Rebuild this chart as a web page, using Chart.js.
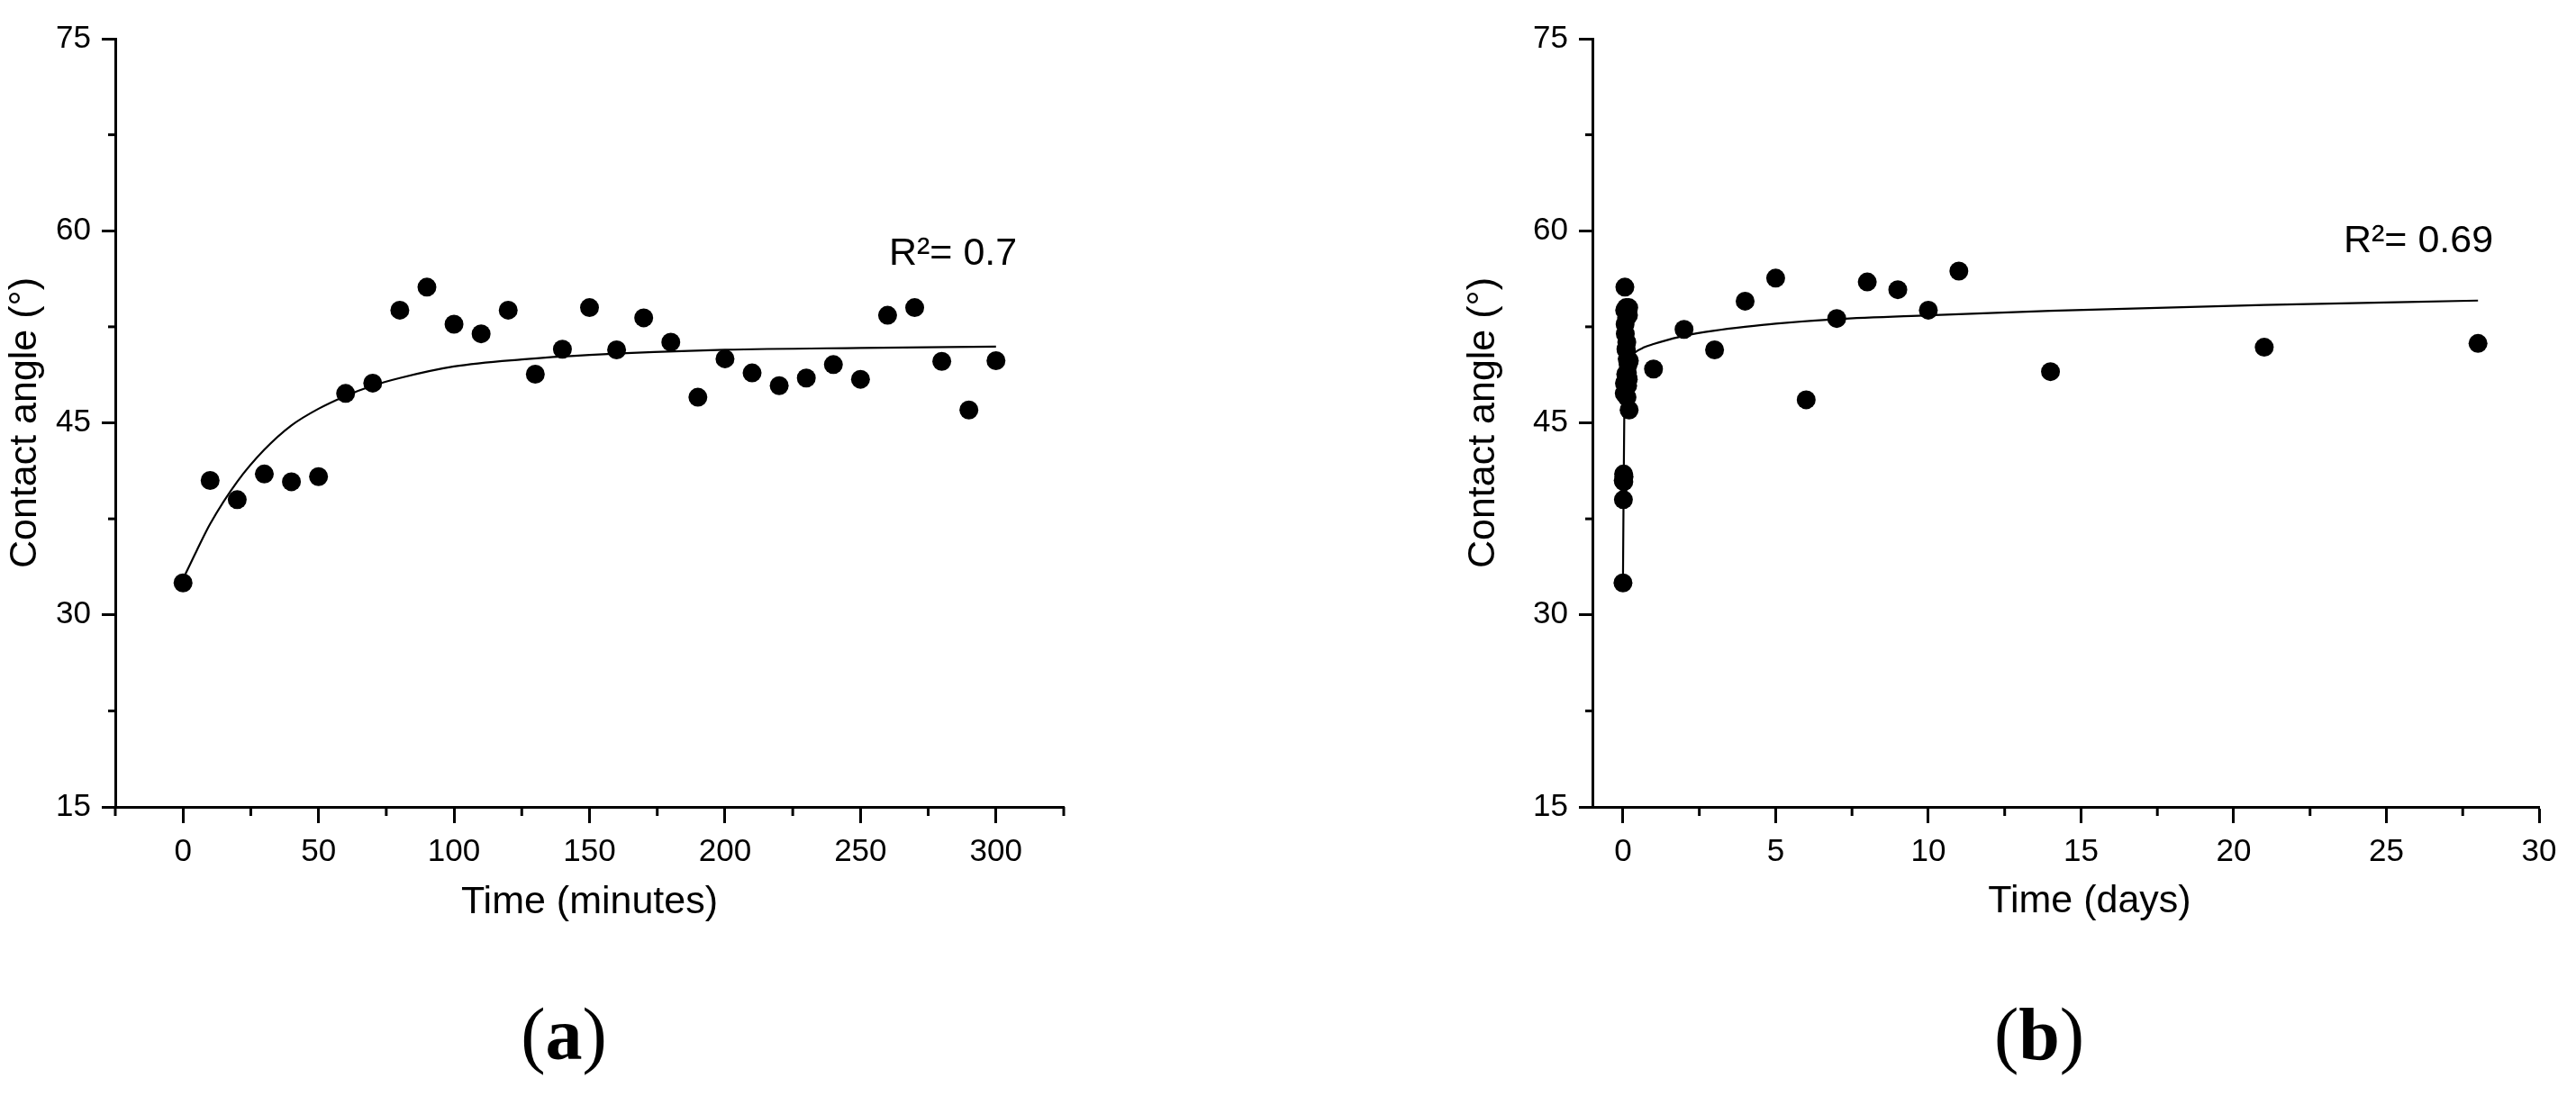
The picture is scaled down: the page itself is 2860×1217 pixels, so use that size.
<!DOCTYPE html>
<html>
<head>
<meta charset="utf-8">
<script src="https://cdn.jsdelivr.net/npm/chart.js@4.4.0/dist/chart.umd.min.js"></script>
<style>
  body { margin: 0; background: #fff; }
  #page { position: relative; width: 2860px; height: 1217px; overflow: hidden; background: #fff; }
  canvas { position: absolute; top: 0; }
  .panel { position: absolute; top: 1099px; width: 200px; text-align: center; font-family: "Liberation Serif", "Times New Roman", serif; font-size: 82px; line-height: 100px; color: #000; }
</style>
</head>
<body>
<div id="page">
  <canvas id="chartA" width="1400" height="1060" style="left:0"></canvas>
  <canvas id="chartB" width="1260" height="1060" style="left:1600px"></canvas>
  <div class="panel" style="left:526px">(<b>a</b>)</div>
  <div class="panel" style="left:2164px">(<b>b</b>)</div>
</div>
<script>
// measured contact angle, first 300 minutes
let minutes = [0, 10, 20, 30, 40, 50, 60, 70, 80, 90, 100, 110, 120, 130, 140, 150,
               160, 170, 180, 190, 200, 210, 220, 230, 240, 250, 260, 270, 280, 290, 300];
let angleMin = [32.5, 40.5, 39.0, 41.0, 40.4, 40.8, 47.3, 48.1, 53.8, 55.6, 52.7, 51.95, 53.8, 48.8, 50.75, 54.0,
                50.7, 53.2, 51.3, 47.0, 50.0, 48.9, 47.9, 48.5, 49.55, 48.4, 53.4, 54.0, 49.8, 46.0, 49.85];

// later measurements, in days
let days = [1, 2, 3, 4, 5, 6, 7, 8, 9, 10, 11, 14, 21, 28];
let angleDays = [49.2, 52.3, 50.7, 54.5, 56.3, 46.8, 53.15, 56.0, 55.4, 53.8, 56.85, 49.0, 50.9, 51.2];

// fitted curves
let fitMinX = [0, 5, 10, 20, 30, 40, 50, 60, 70, 80, 100, 125, 150, 200, 250, 300];
let fitMinY = [32.8, 35.0, 37.1, 40.4, 42.9, 44.8, 46.1, 47.1, 47.9, 48.5, 49.4, 49.95, 50.3, 50.7, 50.85, 50.95];
let fitDayX = [0, 0.05, 0.1, 0.2, 0.4, 0.7, 1, 1.5, 2, 3, 4, 5, 7, 10, 14, 21, 28];
let fitDayY = [32.6, 47.5, 49.0, 49.9, 50.5, 50.9, 51.15, 51.5, 51.8, 52.2, 52.5, 52.75, 53.1, 53.4, 53.75, 54.2, 54.55];

// axes
let yTicks = [15, 30, 45, 60, 75];
let yMinor = [22.5, 37.5, 52.5, 67.5];
let xTicksMin = [0, 50, 100, 150, 200, 250, 300];
let xMinorMin = [-25, 25, 75, 125, 175, 225, 275, 325];
let xTicksDay = [0, 5, 10, 15, 20, 25, 30];
let xMinorDay = [2.5, 7.5, 12.5, 17.5, 22.5, 27.5];

Chart.defaults.font.family = '"Liberation Sans", Arial, sans-serif';
Chart.defaults.color = '#000';

// short ticks between the labelled ones
const minorTicks = {
    id: 'minorTicks',
    afterDraw(chart, args, opts) {
        const ctx = chart.ctx;
        const sx = chart.scales.x, sy = chart.scales.y;
        ctx.save();
        ctx.strokeStyle = '#000';
        ctx.lineWidth = 3;
        opts.x.forEach(v => {
            const px = sx.getPixelForValue(v);
            ctx.beginPath();
            ctx.moveTo(px, sx.top);
            ctx.lineTo(px, sx.top + 10);
            ctx.stroke();
        });
        opts.y.forEach(v => {
            const py = sy.getPixelForValue(v);
            ctx.beginPath();
            ctx.moveTo(sy.right, py);
            ctx.lineTo(sy.right - 8, py);
            ctx.stroke();
        });
        ctx.restore();
    }
};

// R² notes and other loose text
const freeText = {
    id: 'freeText',
    afterDraw(chart, args, opts) {
        const ctx = chart.ctx;
        ctx.save();
        ctx.fillStyle = '#000';
        ctx.textBaseline = 'alphabetic';
        opts.items.forEach(it => {
            ctx.font = '43px "Liberation Sans", Arial, sans-serif';
            ctx.textAlign = it.align || 'left';
            ctx.fillText(it.text, it.px, it.py);
        });
        ctx.restore();
    }
};

function makeOptions(o) {
    return {
        responsive: false,
        animation: false,
        devicePixelRatio: 1,
        layout: { padding: { top: 43, right: o.padRight, bottom: 0, left: 0 } },
        plugins: {
            legend: { display: false },
            tooltip: { enabled: false },
            minorTicks: { x: o.xMinor, y: yMinor },
            freeText: { items: o.notes }
        },
        scales: {
            x: {
                type: 'linear',
                min: o.xMin,
                max: o.xMax,
                afterBuildTicks: axis => { axis.ticks = o.xTicks.map(v => ({ value: v })); },
                afterFit: axis => { axis.height = 164; },
                border: { color: '#000', width: 3 },
                grid: { drawOnChartArea: false, tickLength: 18, tickWidth: 3, tickColor: '#000' },
                ticks: { font: { size: 35 }, color: '#000', padding: 11, maxRotation: 0, autoSkip: false, callback: v => String(v) },
                title: { display: o.xTitle !== null, text: o.xTitle || '', font: { size: 43 }, color: '#000', padding: { top: 0, bottom: 32 } }
            },
            y: {
                type: 'linear',
                min: 15,
                max: 75,
                afterBuildTicks: axis => { axis.ticks = yTicks.map(v => ({ value: v })); },
                afterFit: axis => { axis.width = o.yWidth; },
                border: { color: '#000', width: 3 },
                grid: { drawOnChartArea: false, tickLength: 15, tickWidth: 3, tickColor: '#000' },
                ticks: { font: { size: 35 }, color: '#000', padding: 12, autoSkip: false, callback: v => String(v) },
                title: { display: true, text: 'Contact angle (°)', font: { size: 43 }, color: '#000', padding: { top: o.yTitlePad, bottom: 0 } }
            }
        }
    };
}

function pairs(xs, ys) {
    return xs.map((x, i) => ({ x: x, y: ys[i] }));
}

// (a) minutes
var chartA = new Chart(document.getElementById('chartA').getContext('2d'), {
    type: 'scatter',
    data: {
        datasets: [{
            label: 'fit',
            data: pairs(fitMinX, fitMinY),
            showLine: true,
            borderColor: '#000',
            borderWidth: 2.2,
            pointRadius: 0,
            cubicInterpolationMode: 'monotone'
        }, {
            label: 'Contact angle',
            data: pairs(minutes, angleMin),
            pointRadius: 10.5,
            pointBackgroundColor: '#000',
            pointBorderColor: '#000',
            pointBorderWidth: 0
        }]
    },
    options: makeOptions({
        xMin: -25, xMax: 325, xTicks: xTicksMin, xMinor: xMinorMin,
        xTitle: 'Time (minutes)', yWidth: 128, yTitlePad: 2, padRight: 219,
        notes: [{ text: 'R²= 0.7', px: 987, py: 294 }]
    }),
    plugins: [minorTicks, freeText]
});

// (b) days - the first 300 minutes sit right at day 0
let minutesAsDays = minutes.map(m => m / 1440);
var chartB = new Chart(document.getElementById('chartB').getContext('2d'), {
    type: 'scatter',
    data: {
        datasets: [{
            label: 'fit',
            data: pairs(fitDayX, fitDayY),
            showLine: true,
            borderColor: '#000',
            borderWidth: 2.2,
            pointRadius: 0,
            cubicInterpolationMode: 'monotone'
        }, {
            label: 'Contact angle',
            data: pairs(minutesAsDays, angleMin).concat(pairs(days, angleDays)),
            pointRadius: 10.5,
            pointBackgroundColor: '#000',
            pointBorderColor: '#000',
            pointBorderWidth: 0
        }]
    },
    options: makeOptions({
        xMin: -1, xMax: 30, xTicks: xTicksDay, xMinor: xMinorDay,
        xTitle: null, yWidth: 168, yTitlePad: 21, padRight: 41,
        notes: [
            { text: 'R²= 0.69', px: 1002, py: 280 },
            { text: 'Time (days)', px: 720, py: 1013, align: 'center' }
        ]
    }),
    plugins: [minorTicks, freeText]
});
</script>
</body>
</html>
